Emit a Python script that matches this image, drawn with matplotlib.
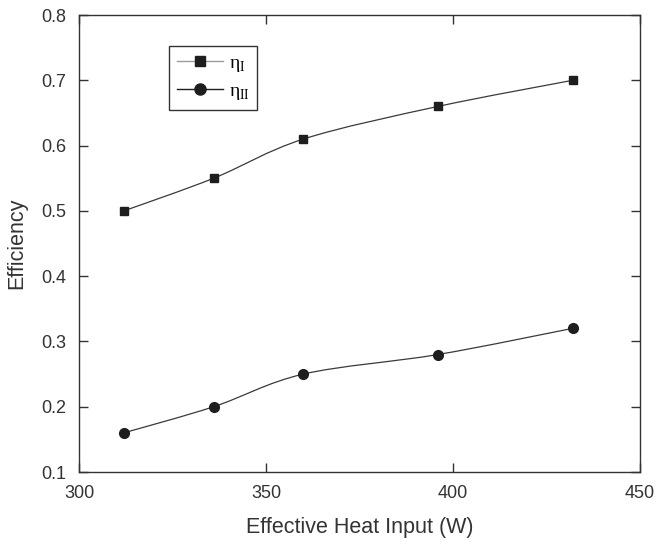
import numpy as np
import matplotlib.pyplot as plt
from matplotlib.path import Path
from matplotlib.patches import PathPatch
from matplotlib.lines import Line2D

plt.rcParams['font.family'] = ['Liberation Sans', 'DejaVu Sans']
plt.rcParams['mathtext.fontset'] = 'custom'
plt.rcParams['mathtext.rm'] = 'Liberation Serif'

# data
heat_input = [312, 336, 360, 396, 432]
eta_1 = [0.50, 0.55, 0.61, 0.66, 0.70]
eta_2 = [0.16, 0.20, 0.25, 0.28, 0.32]


def smooth_path(ax, x, y, color, lw=1.0):
    # Catmull-Rom style bezier through the data points (drawing only)
    x = np.asarray(x, float)
    y = np.asarray(y, float)
    pts = ax.transData.transform(np.column_stack([x, y]))
    n = len(pts)
    verts = [pts[0]]
    codes = [Path.MOVETO]
    for i in range(n - 1):
        p0 = pts[i - 1] if i > 0 else pts[i]
        p1 = pts[i]
        p2 = pts[i + 1]
        p3 = pts[i + 2] if i + 2 < n else pts[i + 1]
        c1 = p1 + (p2 - p0) / 6.0
        c2 = p2 - (p3 - p1) / 6.0
        verts += [c1, c2, p2]
        codes += [Path.CURVE4] * 3
    verts = ax.transData.inverted().transform(np.array(verts))
    patch = PathPatch(Path(verts, codes), facecolor='none', edgecolor=color,
                      lw=lw, zorder=2)
    ax.add_patch(patch)


fig = plt.figure(figsize=(6.56, 5.41), dpi=100)
ax = fig.add_axes([0.1204, 0.1275, 0.855, 0.8447])

ax.set_xlim(300, 450)
ax.set_ylim(0.1, 0.8)
ax.set_xticks([300, 350, 400, 450])
ax.set_yticks(np.arange(0.1, 0.81, 0.1))
ax.set_yticklabels(['0.1', '0.2', '0.3', '0.4', '0.5', '0.6', '0.7', '0.8'])

fig.canvas.draw()
smooth_path(ax, heat_input, eta_1, '#3a3a3a', lw=0.9)
smooth_path(ax, heat_input, eta_2, '#3a3a3a', lw=0.9)

ax.plot(heat_input, eta_1, linestyle='none', marker='s', ms=6,
        color='#1e1e1e', zorder=3)
ax.plot(heat_input, eta_2, linestyle='none', marker='o', ms=7,
        color='#1e1e1e', zorder=3)

handles = [
    Line2D([], [], color='#9a9a9a', lw=1.0, marker='s', ms=7,
           markerfacecolor='#1e1e1e', markeredgecolor='#1e1e1e'),
    Line2D([], [], color='#1e1e1e', lw=1.0, marker='o', ms=8),
]
leg = ax.legend(handles, [r'$\mathrm{η}_{\mathrm{I}}$', r'$\mathrm{η}_{\mathrm{II}}$'],
                loc='upper left', bbox_to_anchor=(0.160, 0.932),
                borderaxespad=0, fancybox=False, framealpha=1,
                edgecolor='#333333', fontsize=14, handlelength=2.4,
                labelspacing=0.45, handletextpad=0.3, borderpad=0.4)
leg.get_frame().set_linewidth(1.0)

ax.tick_params(direction='in', length=6.5, width=1, labelsize=13,
               colors='#333333', pad=9, top=True, right=True)
for s in ax.spines.values():
    s.set_linewidth(1.0)
    s.set_color('#333333')

ax.set_xlabel('Effective Heat Input (W)', fontsize=15.5, color='#333333',
              labelpad=11)
ax.set_ylabel('Efficiency', fontsize=15.5, color='#333333', labelpad=10)

fig.savefig('out.png', dpi=100)
